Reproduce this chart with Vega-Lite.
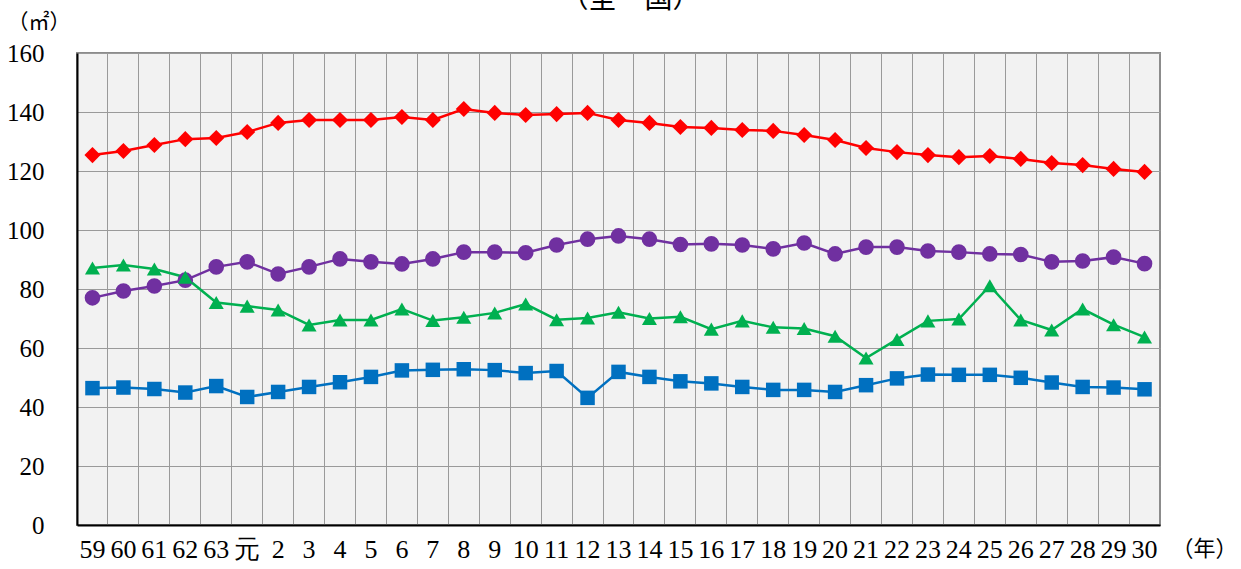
{
  "$schema": "https://vega.github.io/schema/vega-lite/v6.json",
  "autosize": {"type": "none"},
  "width": 1083,
  "height": 472,
  "padding": {"left": 77, "top": 53, "right": 81, "bottom": 44},
  "background": "white",
  "title": {"text": "（全　国）", "fontSize": 28, "font": "Noto Sans CJK JP", "fontWeight": "normal", "color": "#000", "baseline": "bottom", "frame": "group", "offset": 0, "dx": 12, "dy": 31, "anchor": "middle"},
  "config": {
    "view": {"fill": "#f2f2f2", "stroke": "#8c8c8c", "strokeWidth": 2},
    "axis": {"labelFont": "Liberation Sans Narrow", "labelColor": "#000", "gridColor": "#9a9a9a", "gridWidth": 1, "gridOpacity": 1, "domainColor": "#000", "domainWidth": 2, "ticks": false}
  },
  "datasets": {
    "rows": [
      {"year":"59","series":"持家","value":125.4},{"year":"60","series":"持家","value":126.8},{"year":"61","series":"持家","value":128.8},{"year":"62","series":"持家","value":130.8},{"year":"63","series":"持家","value":131.2},{"year":"元","series":"持家","value":133.2},{"year":"2","series":"持家","value":136.3},{"year":"3","series":"持家","value":137.3},{"year":"4","series":"持家","value":137.3},{"year":"5","series":"持家","value":137.3},{"year":"6","series":"持家","value":138.3},{"year":"7","series":"持家","value":137.3},{"year":"8","series":"持家","value":141.0},{"year":"9","series":"持家","value":139.7},{"year":"10","series":"持家","value":139.0},{"year":"11","series":"持家","value":139.3},{"year":"12","series":"持家","value":139.7},{"year":"13","series":"持家","value":137.3},{"year":"14","series":"持家","value":136.3},{"year":"15","series":"持家","value":134.9},{"year":"16","series":"持家","value":134.6},{"year":"17","series":"持家","value":133.9},{"year":"18","series":"持家","value":133.6},{"year":"19","series":"持家","value":132.2},{"year":"20","series":"持家","value":130.5},{"year":"21","series":"持家","value":127.8},{"year":"22","series":"持家","value":126.4},{"year":"23","series":"持家","value":125.4},{"year":"24","series":"持家","value":124.7},{"year":"25","series":"持家","value":125.1},{"year":"26","series":"持家","value":124.1},{"year":"27","series":"持家","value":122.7},{"year":"28","series":"持家","value":122.0},{"year":"29","series":"持家","value":120.7},{"year":"30","series":"持家","value":119.7},
      {"year":"59","series":"分譲住宅","value":77.0},{"year":"60","series":"分譲住宅","value":79.3},{"year":"61","series":"分譲住宅","value":81.0},{"year":"62","series":"分譲住宅","value":83.0},{"year":"63","series":"分譲住宅","value":87.5},{"year":"元","series":"分譲住宅","value":89.2},{"year":"2","series":"分譲住宅","value":85.1},{"year":"3","series":"分譲住宅","value":87.5},{"year":"4","series":"分譲住宅","value":90.2},{"year":"5","series":"分譲住宅","value":89.2},{"year":"6","series":"分譲住宅","value":88.5},{"year":"7","series":"分譲住宅","value":90.2},{"year":"8","series":"分譲住宅","value":92.5},{"year":"9","series":"分譲住宅","value":92.5},{"year":"10","series":"分譲住宅","value":92.3},{"year":"11","series":"分譲住宅","value":94.9},{"year":"12","series":"分譲住宅","value":96.9},{"year":"13","series":"分譲住宅","value":98.0},{"year":"14","series":"分譲住宅","value":96.9},{"year":"15","series":"分譲住宅","value":95.1},{"year":"16","series":"分譲住宅","value":95.3},{"year":"17","series":"分譲住宅","value":94.9},{"year":"18","series":"分譲住宅","value":93.6},{"year":"19","series":"分譲住宅","value":95.6},{"year":"20","series":"分譲住宅","value":91.9},{"year":"21","series":"分譲住宅","value":94.2},{"year":"22","series":"分譲住宅","value":94.2},{"year":"23","series":"分譲住宅","value":92.9},{"year":"24","series":"分譲住宅","value":92.5},{"year":"25","series":"分譲住宅","value":91.9},{"year":"26","series":"分譲住宅","value":91.7},{"year":"27","series":"分譲住宅","value":89.2},{"year":"28","series":"分譲住宅","value":89.5},{"year":"29","series":"分譲住宅","value":90.8},{"year":"30","series":"分譲住宅","value":88.6},
      {"year":"59","series":"給与住宅","value":87.1},{"year":"60","series":"給与住宅","value":88.1},{"year":"61","series":"給与住宅","value":86.8},{"year":"62","series":"給与住宅","value":84.0},{"year":"63","series":"給与住宅","value":75.4},{"year":"元","series":"給与住宅","value":74.2},{"year":"2","series":"給与住宅","value":72.9},{"year":"3","series":"給与住宅","value":67.8},{"year":"4","series":"給与住宅","value":69.5},{"year":"5","series":"給与住宅","value":69.5},{"year":"6","series":"給与住宅","value":73.2},{"year":"7","series":"給与住宅","value":69.3},{"year":"8","series":"給与住宅","value":70.4},{"year":"9","series":"給与住宅","value":71.9},{"year":"10","series":"給与住宅","value":74.9},{"year":"11","series":"給与住宅","value":69.6},{"year":"12","series":"給与住宅","value":70.2},{"year":"13","series":"給与住宅","value":72.1},{"year":"14","series":"給与住宅","value":70.0},{"year":"15","series":"給与住宅","value":70.6},{"year":"16","series":"給与住宅","value":66.4},{"year":"17","series":"給与住宅","value":69.2},{"year":"18","series":"給与住宅","value":67.0},{"year":"19","series":"給与住宅","value":66.6},{"year":"20","series":"給与住宅","value":64.0},{"year":"21","series":"給与住宅","value":56.6},{"year":"22","series":"給与住宅","value":62.9},{"year":"23","series":"給与住宅","value":69.2},{"year":"24","series":"給与住宅","value":69.8},{"year":"25","series":"給与住宅","value":81.1},{"year":"26","series":"給与住宅","value":69.5},{"year":"27","series":"給与住宅","value":66.1},{"year":"28","series":"給与住宅","value":73.2},{"year":"29","series":"給与住宅","value":67.9},{"year":"30","series":"給与住宅","value":63.7},
      {"year":"59","series":"貸家","value":46.4},{"year":"60","series":"貸家","value":46.6},{"year":"61","series":"貸家","value":46.1},{"year":"62","series":"貸家","value":44.9},{"year":"63","series":"貸家","value":47.1},{"year":"元","series":"貸家","value":43.4},{"year":"2","series":"貸家","value":45.1},{"year":"3","series":"貸家","value":46.8},{"year":"4","series":"貸家","value":48.4},{"year":"5","series":"貸家","value":50.2},{"year":"6","series":"貸家","value":52.4},{"year":"7","series":"貸家","value":52.6},{"year":"8","series":"貸家","value":52.8},{"year":"9","series":"貸家","value":52.5},{"year":"10","series":"貸家","value":51.5},{"year":"11","series":"貸家","value":52.2},{"year":"12","series":"貸家","value":43.1},{"year":"13","series":"貸家","value":51.9},{"year":"14","series":"貸家","value":50.2},{"year":"15","series":"貸家","value":48.7},{"year":"16","series":"貸家","value":48.0},{"year":"17","series":"貸家","value":46.8},{"year":"18","series":"貸家","value":45.8},{"year":"19","series":"貸家","value":45.8},{"year":"20","series":"貸家","value":45.1},{"year":"21","series":"貸家","value":47.4},{"year":"22","series":"貸家","value":49.7},{"year":"23","series":"貸家","value":51.0},{"year":"24","series":"貸家","value":50.9},{"year":"25","series":"貸家","value":50.9},{"year":"26","series":"貸家","value":49.9},{"year":"27","series":"貸家","value":48.3},{"year":"28","series":"貸家","value":46.8},{"year":"29","series":"貸家","value":46.6},{"year":"30","series":"貸家","value":46.0}
    ]
  },
  "data": {"name": "rows"},
  "encoding": {
    "x": {
      "field": "year", "type": "ordinal", "bandPosition": 0.5,
      "sort": ["59","60","61","62","63","元","2","3","4","5","6","7","8","9","10","11","12","13","14","15","16","17","18","19","20","21","22","23","24","25","26","27","28","29","30"],
      "scale": {"type": "band", "paddingInner": 0, "paddingOuter": 0},
      "axis": {"title": "（年）", "titleFont": "Noto Sans CJK JP", "titleFontSize": 22, "titleFontWeight": "normal", "titleColor": "#000", "titleX": 1127, "titleY": 23, "titleAlign": "center", "titleBaseline": "middle", "labelAngle": 0, "labelFontSize": 26, "labelPadding": 11, "labelFont": "Liberation Sans Narrow", "bandPosition": 0, "grid": true, "labelBound": false, "labelOverlap": false}
    },
    "y": {
      "field": "value", "type": "quantitative",
      "scale": {"domain": [0, 160], "nice": false, "zero": true},
      "axis": {"values": [0,20,40,60,80,100,120,140,160], "title": "（㎡）", "titleFont": "Noto Sans CJK JP", "titleFontSize": 21, "titleFontWeight": "normal", "titleColor": "#000", "titleAngle": 0, "titleX": -70, "titleY": -31, "titleAlign": "left", "titleBaseline": "middle", "labelFontSize": 25, "labelPadding": 33, "grid": true}
    },
    "color": {"field": "series", "type": "nominal", "legend": null,
      "scale": {"domain": ["持家","分譲住宅","給与住宅","貸家"], "range": ["#ff0000","#7030a0","#00b050","#0070c0"]}}
  },
  "layer": [
    {"mark": {"type": "line", "strokeWidth": 2.5}},
    {"mark": {"type": "point", "filled": true, "opacity": 1},
     "encoding": {
       "shape": {"field": "series", "type": "nominal", "legend": null,
         "scale": {"domain": ["持家","分譲住宅","給与住宅","貸家"], "range": ["diamond","circle","triangle-up","square"]}},
       "size": {"field": "series", "type": "nominal", "legend": null,
         "scale": {"domain": ["持家","分譲住宅","給与住宅","貸家"], "range": [260, 210, 190, 230]}}
     }}
  ]
}
